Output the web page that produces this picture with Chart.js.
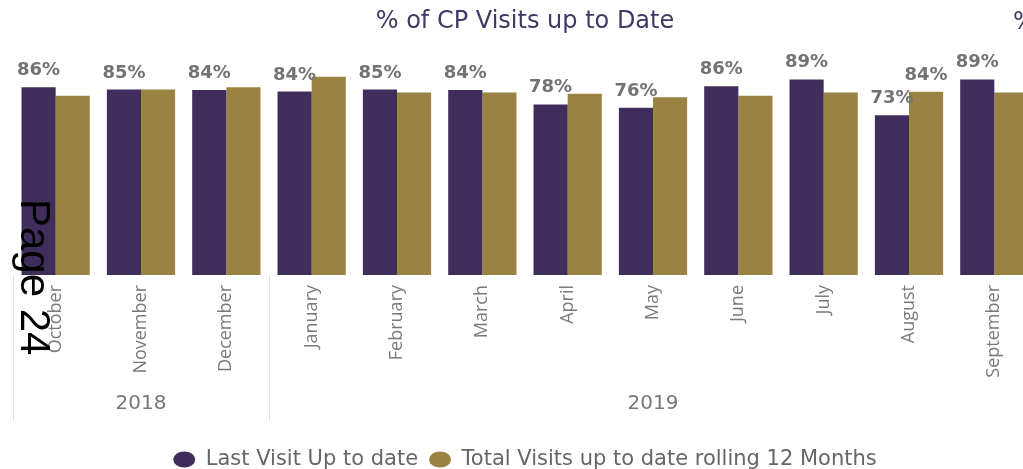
<!DOCTYPE html>
<html>
<head>
<meta charset="utf-8">
<script src="https://cdn.jsdelivr.net/npm/chart.js@4.4.1/dist/chart.umd.min.js"></script>
<style>
  html, body { margin: 0; padding: 0; width: 1023px; height: 469px; overflow: hidden; background: #ffffff; }
  #wrap { position: relative; width: 1048px; height: 480px; }
  #c { display: block; }
  #page { position: absolute; left: 56px; top: 199px; transform-origin: 0 0; transform: rotate(90deg);
          font-family: "Liberation Sans", Arial, sans-serif; font-size: 42px; line-height: 42px; color: #000; white-space: nowrap; }
  #next { position: absolute; left: 1013px; top: 7px; font-family: "DejaVu Sans", sans-serif; font-size: 24px;
          line-height: 28.8px; color: #3e3a66; white-space: nowrap; }
</style>
</head>
<body>
<div id="wrap">
  <canvas id="c" width="1048" height="480" style="width:1048px;height:480px"></canvas>
  <div id="next">%</div>
  <div id="page">Page 24</div>
</div>
<script>
// ---- Data ----
const months = ['October', 'November', 'December', 'January', 'February', 'March',
                'April', 'May', 'June', 'July', 'August', 'September'];
const years = ['2018', '2018', '2018', '2019', '2019', '2019',
               '2019', '2019', '2019', '2019', '2019', '2019'];
const lastVisit   = [85.6, 84.6, 84.4, 83.7, 84.6, 84.4, 77.8, 76.3, 86.1, 89.2, 72.9, 89.2];
const totalVisits = [81.8, 84.6, 85.6, 90.4, 83.3, 83.3, 82.7, 81.1, 81.8, 83.3, 83.6, 83.3];
const showTotalLabel = [false, false, false, false, false, false, false, false, false, false, true, false];
const seriesNames = ['Last Visit Up to date', 'Total Visits up to date rolling 12 Months'];
const chartTitle = '% of CP Visits up to Date';

// ---- Plugins ----
const dataLabels = {
  id: 'dataLabels',
  afterDatasetsDraw(chart) {
    const ctx = chart.ctx;
    ctx.save();
    ctx.font = 'bold 18px "DejaVu Sans"';
    ctx.fillStyle = '#737373';
    ctx.textAlign = 'center';
    ctx.textBaseline = 'alphabetic';
    const m0 = chart.getDatasetMeta(0);
    m0.data.forEach((bar, i) => {
      ctx.fillText(Math.round(lastVisit[i]) + '%', bar.x, bar.y - 12);
    });
    const m1 = chart.getDatasetMeta(1);
    m1.data.forEach((bar, i) => {
      if (showTotalLabel[i]) ctx.fillText(Math.round(totalVisits[i]) + '%', bar.x, bar.y - 12);
    });
    ctx.restore();
  }
};

const yearGroups = {
  id: 'yearGroups',
  afterDraw(chart) {
    const ctx = chart.ctx;
    const xs = chart.scales.x;
    const area = chart.chartArea;
    const cat = xs.width / months.length;
    ctx.save();
    // separators
    ctx.strokeStyle = '#e3e3e3';
    ctx.lineWidth = 1;
    years.forEach((y, i) => {
      if (i === 0 || years[i - 1] !== y) {
        const x = Math.round(xs.getPixelForValue(i) - cat / 2) + 0.5;
        ctx.beginPath();
        ctx.moveTo(x, area.bottom);
        ctx.lineTo(x, area.bottom + 146);
        ctx.stroke();
      }
    });
    // year labels
    ctx.font = '20px "DejaVu Sans"';
    ctx.fillStyle = '#777777';
    ctx.textAlign = 'center';
    ctx.textBaseline = 'middle';
    let start = 0;
    for (let i = 1; i <= years.length; i++) {
      if (i === years.length || years[i] !== years[start]) {
        const x = (xs.getPixelForValue(start) + xs.getPixelForValue(i - 1)) / 2;
        ctx.fillText(years[start], x, area.bottom + 129);
        start = i;
      }
    }
    ctx.restore();
  }
};

new Chart(document.getElementById('c'), {
  type: 'bar',
  data: {
    labels: months,
    datasets: [
      { label: seriesNames[0], data: lastVisit, backgroundColor: '#402d5c',
        categoryPercentage: 0.8, barPercentage: 1.0 },
      { label: seriesNames[1], data: totalVisits, backgroundColor: '#9a8342',
        categoryPercentage: 0.8, barPercentage: 1.0 }
    ]
  },
  options: {
    responsive: false,
    animation: false,
    devicePixelRatio: 1,
    layout: { padding: { left: 13, right: 11, top: 0, bottom: 0 } },
    plugins: {
      title: {
        display: true, text: chartTitle, color: '#3e3a66',
        font: { family: '"DejaVu Sans"', size: 24, weight: 'normal' },
        padding: { top: 7, bottom: 20 }
      },
      legend: {
        position: 'bottom',
        labels: {
          usePointStyle: true, pointStyle: 'circle', pointStyleWidth: 22, boxHeight: 11.3,
          color: '#666666', font: { family: '"DejaVu Sans"', size: 21 }, padding: 11
        }
      },
      tooltip: { enabled: false }
    },
    scales: {
      x: {
        grid: { display: false, drawTicks: false },
        border: { display: false },
        ticks: {
          minRotation: 90, maxRotation: 90, autoSkip: false, padding: 10,
          color: '#7a7a7a', font: { family: '"Open Sans"', size: 18 }
        },
        afterFit(scale) { scale.height = 163; }
      },
      y: { display: false, min: 0, max: 100 }
    }
  },
  plugins: [dataLabels, yearGroups]
});
</script>
</body>
</html>
